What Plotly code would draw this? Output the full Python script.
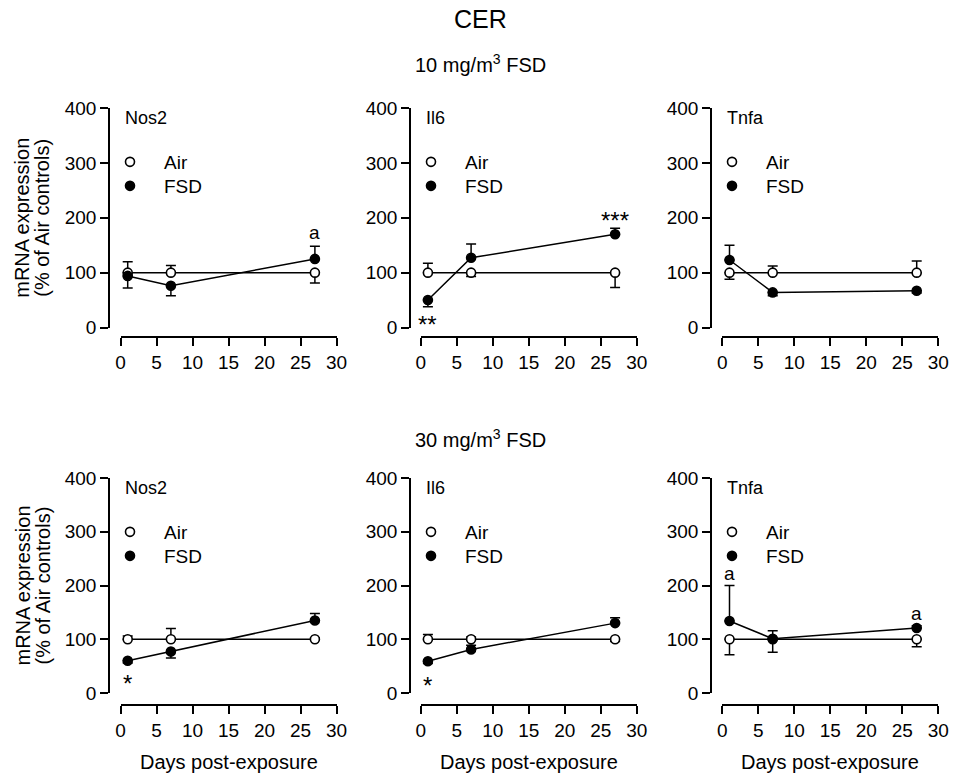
import plotly.graph_objects as go

# ---------------- data ----------------
days = [1, 7, 27]
genes = ["Nos2", "Il6", "Tnfa"]

# 10 mg/m3 FSD
nos2_10_air = [100, 100, 100]
nos2_10_air_up = [20, 13, 0]
nos2_10_air_dn = [0, 0, 19]
nos2_10_fsd = [94, 76, 125]
nos2_10_fsd_up = [0, 0, 23]
nos2_10_fsd_dn = [22, 18, 0]

il6_10_air = [100, 100, 100]
il6_10_air_up = [17, 0, 0]
il6_10_air_dn = [0, 7, 27]
il6_10_fsd = [50, 127, 170]
il6_10_fsd_up = [0, 25, 11]
il6_10_fsd_dn = [12, 0, 0]

tnfa_10_air = [100, 100, 100]
tnfa_10_air_up = [0, 12, 21]
tnfa_10_air_dn = [12, 0, 0]
tnfa_10_fsd = [123, 64, 67]
tnfa_10_fsd_up = [27, 0, 0]
tnfa_10_fsd_dn = [0, 6, 4]

# 30 mg/m3 FSD
nos2_30_air = [100, 100, 100]
nos2_30_air_up = [6, 20, 3]
nos2_30_air_dn = [0, 0, 0]
nos2_30_fsd = [60, 77, 135]
nos2_30_fsd_up = [0, 0, 13]
nos2_30_fsd_dn = [4, 12, 0]

il6_30_air = [100, 100, 100]
il6_30_air_up = [9, 4, 0]
il6_30_air_dn = [0, 0, 4]
il6_30_fsd = [59, 81, 130]
il6_30_fsd_up = [0, 8, 10]
il6_30_fsd_dn = [4, 0, 0]

tnfa_30_air = [100, 100, 100]
tnfa_30_air_up = [0, 0, 0]
tnfa_30_air_dn = [29, 24, 14]
tnfa_30_fsd = [134, 101, 121]
tnfa_30_fsd_up = [66, 15, 4]
tnfa_30_fsd_dn = [0, 0, 0]

# significance marks: (panel index, day, y value, text)
sig_marks = [
    (0, 27, 173, "a"),
    (1, 1, 5, "**"),
    (1, 27, 195, "***"),
    (3, 1, 17, "*"),
    (4, 1, 14, "*"),
    (5, 1, 223, "a"),
    (5, 27, 148, "a"),
]

x_ticks = [0, 5, 10, 15, 20, 25, 30]
y_ticks = [0, 100, 200, 300, 400]

panels = [
    (nos2_10_air, nos2_10_air_up, nos2_10_air_dn, nos2_10_fsd, nos2_10_fsd_up, nos2_10_fsd_dn),
    (il6_10_air, il6_10_air_up, il6_10_air_dn, il6_10_fsd, il6_10_fsd_up, il6_10_fsd_dn),
    (tnfa_10_air, tnfa_10_air_up, tnfa_10_air_dn, tnfa_10_fsd, tnfa_10_fsd_up, tnfa_10_fsd_dn),
    (nos2_30_air, nos2_30_air_up, nos2_30_air_dn, nos2_30_fsd, nos2_30_fsd_up, nos2_30_fsd_dn),
    (il6_30_air, il6_30_air_up, il6_30_air_dn, il6_30_fsd, il6_30_fsd_up, il6_30_fsd_dn),
    (tnfa_30_air, tnfa_30_air_up, tnfa_30_air_dn, tnfa_30_fsd, tnfa_30_fsd_up, tnfa_30_fsd_dn),
]

# ---------------- layout geometry (pixels) ----------------
W, H = 958, 780
FONT = "Liberation Sans, Arial, sans-serif"

def px(x):
    return x / W

def py(y):
    return 1 - y / H

col_x0 = [120.5, 420.7, 722.3]      # pixel x of day 0
col_w = 216                          # pixel width of 0..30
col_yaxis = [109, 410, 711]          # pixel x of y-axis line
row_top = [108, 478]                 # pixel y of value 400
row_bot = [327.5, 693]               # pixel y of value 0
row_xaxis = [337, 705]               # pixel y of x-axis line

fig = go.Figure()
layout = dict(
    width=W, height=H,
    margin=dict(l=0, r=0, t=0, b=0, pad=0, autoexpand=False),
    paper_bgcolor="white", plot_bgcolor="white",
    font=dict(family=FONT, color="black", size=19),
    annotations=[],
)

LEG_W = 58
leg_n = 0
for k in range(6):
    r, c = divmod(k, 3)
    sfx = "" if k == 0 else str(k + 1)
    xa, ya = "x" + sfx, "y" + sfx
    air, air_up, air_dn, fsd, fsd_up, fsd_dn = panels[k]

    fig.add_trace(go.Scatter(
        x=days, y=air, xaxis=xa, yaxis=ya, mode="lines+markers", showlegend=False,
        line=dict(color="black", width=1.5),
        marker=dict(symbol="circle", size=9, color="white", line=dict(color="black", width=1.6)),
        error_y=dict(type="data", symmetric=False, array=air_up, arrayminus=air_dn,
                     color="black", thickness=1.5, width=5),
    ))
    fig.add_trace(go.Scatter(
        x=days, y=fsd, xaxis=xa, yaxis=ya, mode="lines+markers", showlegend=False,
        line=dict(color="black", width=1.5),
        marker=dict(symbol="circle", size=9, color="black", line=dict(color="black", width=1.6)),
        error_y=dict(type="data", symmetric=False, array=fsd_up, arrayminus=fsd_dn,
                     color="black", thickness=1.5, width=5),
    ))
    # legend entries (one legend box per entry for exact spacing)
    sym_x = col_yaxis[c] + 21
    for name, fill, dy in [("Air", "white", 55), ("FSD", "black", 79)]:
        leg_n += 1
        leg = "legend" if leg_n == 1 else "legend" + str(leg_n)
        fig.add_trace(go.Scatter(
            x=[None], y=[None], xaxis=xa, yaxis=ya, mode="markers", name=name, legend=leg,
            marker=dict(symbol="circle", size=9, color=fill, line=dict(color="black", width=1.6)),
        ))
        sym_y = row_top[r] + dy
        layout[leg] = dict(
            x=px(sym_x - (LEG_W + 10) / 2), y=py(sym_y - 20), xanchor="left", yanchor="top",
            bgcolor="rgba(0,0,0,0)", borderwidth=0, itemwidth=LEG_W,
            font=dict(family=FONT, size=19, color="black"),
        )

    layout["xaxis" + sfx] = dict(
        domain=[px(col_x0[c]), px(col_x0[c] + col_w)], range=[0, 30],
        anchor="free", position=py(row_xaxis[r]), automargin=False,
        showline=True, linecolor="black", linewidth=1.5, mirror=False,
        ticks="outside", ticklen=8, tickwidth=1.5, tickcolor="black",
        tickvals=x_ticks, ticktext=[str(t) for t in x_ticks],
        tickfont=dict(family=FONT, size=19, color="black"),
        showgrid=False, zeroline=False, fixedrange=True,
    )
    layout["yaxis" + sfx] = dict(
        domain=[py(row_bot[r]), py(row_top[r])], range=[0, 400],
        anchor="free", position=px(col_yaxis[c]), automargin=False,
        showline=True, linecolor="black", linewidth=1.5,
        ticks="outside", ticklen=8, tickwidth=1.5, tickcolor="black",
        tickvals=y_ticks, ticktext=[str(t) for t in y_ticks],
        tickfont=dict(family=FONT, size=19, color="black"),
        showgrid=False, zeroline=False, fixedrange=True,
    )

    # gene label
    layout["annotations"].append(dict(
        text=genes[c], xref="paper", yref="paper",
        x=px(col_yaxis[c] + 14), y=py(row_top[r] + 10),
        xanchor="left", yanchor="middle", showarrow=False,
        font=dict(family=FONT, size=18, color="black"),
    ))

# significance marks
for k, d, v, t in sig_marks:
    sfx = "" if k == 0 else str(k + 1)
    layout["annotations"].append(dict(
        text=t, xref="x" + sfx, yref="y" + sfx, x=d, y=v,
        xanchor="center", yanchor="middle", showarrow=False,
        font=dict(family=FONT, size=24 if "*" in t else 19, color="black"),
    ))

# titles
layout["annotations"] += [
    dict(text="CER", xref="paper", yref="paper", x=px(480), y=py(19),
         xanchor="center", yanchor="middle", showarrow=False,
         font=dict(family=FONT, size=25, color="black")),
    dict(text="10 mg/m<sup>3</sup> FSD", xref="paper", yref="paper", x=px(480), y=py(63),
         xanchor="center", yanchor="middle", showarrow=False,
         font=dict(family=FONT, size=20, color="black")),
    dict(text="30 mg/m<sup>3</sup> FSD", xref="paper", yref="paper", x=px(480), y=py(438),
         xanchor="center", yanchor="middle", showarrow=False,
         font=dict(family=FONT, size=20, color="black")),
]
for r in range(2):
    ymid = (row_top[r] + row_bot[r]) / 2
    for xx, txt in [(22, "mRNA expression"), (42, "(% of Air controls)")]:
        layout["annotations"].append(dict(
            text=txt, xref="paper", yref="paper", x=px(xx), y=py(ymid),
            xanchor="center", yanchor="middle", textangle=-90, showarrow=False,
            font=dict(family=FONT, size=20, color="black"),
        ))
for c in range(3):
    layout["annotations"].append(dict(
        text="Days post-exposure", xref="paper", yref="paper",
        x=px(col_x0[c] + col_w / 2), y=py(762),
        xanchor="center", yanchor="middle", showarrow=False,
        font=dict(family=FONT, size=20, color="black"),
    ))

fig.update_layout(**layout)
fig.write_html("out.html", config={"displayModeBar": False},
               post_script="document.body.style.margin='0';")
